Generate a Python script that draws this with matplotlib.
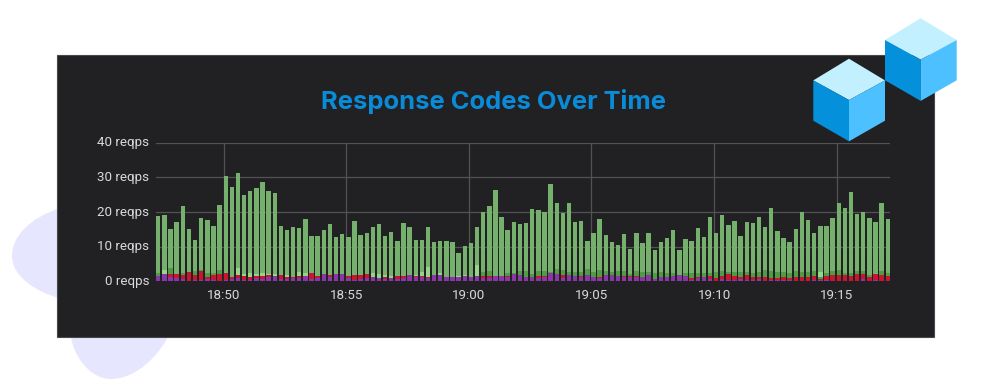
import matplotlib
matplotlib.use('Agg')
import matplotlib.pyplot as plt
import matplotlib.dates as mdates
from matplotlib.patches import Polygon, Rectangle, PathPatch
from matplotlib.path import Path
from matplotlib.transforms import ScaledTranslation
import numpy as np
import pandas as pd

total = [18.8, 19.0, 15.2, 17.2, 21.6, 15.0, 11.8, 18.3, 17.7, 16.1, 22.1, 30.5, 27.3, 31.3, 24.8, 26.2, 26.8, 28.6, 26.2, 25.4,
         16.1, 14.8, 15.8, 15.4, 18.1, 13.2, 13.1, 14.7, 16.6, 12.9, 13.7, 12.8, 17.5, 13.5, 13.8, 15.8, 16.5, 13.0, 14.1, 11.6,
         16.7, 15.8, 12.0, 11.9, 15.6, 11.2, 11.5, 11.5, 11.2, 8.1, 10.1, 11.0, 15.7, 20.0, 21.7, 26.3, 18.5, 14.8, 17.0, 16.5,
         16.9, 21.0, 20.5, 20.0, 28.0, 22.5, 19.7, 22.5, 17.0, 17.5, 11.6, 13.8, 17.9, 13.3, 11.2, 10.6, 13.7, 9.3, 13.8, 11.0,
         13.8, 9.1, 11.3, 12.4, 14.9, 9.1, 12.1, 11.5, 15.5, 12.8, 18.5, 13.8, 19.0, 16.3, 17.4, 13.2, 17.0, 16.9, 18.7, 15.6,
         21.2, 14.4, 12.4, 11.3, 15.0, 20.0, 17.6, 13.8, 15.9, 16.1, 18.2, 22.5, 21.2, 25.9, 19.4, 20.1, 18.2, 17.1, 22.7, 18.0]
purple = [1.6, 2.0, 1.1, 0.9, 0.8, 0.2, 0.3, 0.3, 0.7, 0.5, 0.2, 0.3, 0.7, 1.0, 0.5, 0.3, 1.0, 0.7, 1.2, 1.5,
          0.7, 0.8, 0.9, 1.0, 1.4, 0.6, 1.0, 2.1, 1.2, 2.0, 2.1, 0.9, 0.5, 0.7, 1.0, 1.3, 1.0, 0.6, 0.9, 0.8,
          1.0, 1.7, 1.1, 1.2, 0.9, 1.7, 1.8, 1.2, 1.1, 1.1, 1.4, 1.2, 1.5, 1.0, 1.0, 1.4, 1.6, 1.1, 2.0, 1.8,
          1.3, 1.2, 1.0, 1.2, 2.5, 2.0, 1.0, 1.8, 1.6, 1.3, 1.7, 1.2, 1.0, 1.7, 1.7, 1.5, 1.3, 1.2, 1.2, 1.2,
          1.8, 0.8, 1.2, 1.3, 1.5, 1.7, 1.4, 0.3, 0.9, 1.2, 0.6, 0.2, 0.7, 0.3, 0.3, 0.6, 0.3, 0.3, 0.6, 0.1,
          0.4, 0.4, 0.3, 0.3, 0.2, 0.1, 0.2, 0.3, 0.3, 0.5, 0.1, 0.2, 0.2, 0.2, 0.2, 0.6, 0.1, 0.3, 0.2, 0.2]
red = [0.0, 0.0, 1.0, 1.3, 0.9, 2.4, 1.4, 2.6, 0.6, 1.4, 1.8, 2.0, 0.4, 0.9, 1.0, 0.8, 0.5, 0.7, 0.5, 0.0,
       1.0, 0.5, 0.4, 0.5, 0.0, 1.7, 0.6, 0.0, 0.5, 0.0, 0.0, 0.7, 1.2, 1.0, 1.0, 0.0, 0.0, 0.6, 0.0, 0.8,
       0.4, 0.0, 0.3, 0.4, 0.4, 0.0, 0.0, 0.0, 0.0, 0.0, 0.0, 0.0, 0.0, 0.5, 0.6, 0.0, 0.0, 0.3, 0.0, 0.0,
       0.0, 0.0, 0.5, 0.2, 0.0, 0.0, 0.8, 0.0, 0.0, 0.3, 0.0, 0.0, 0.3, 0.0, 0.0, 0.0, 0.3, 0.3, 0.4, 0.0,
       0.0, 0.0, 0.0, 0.0, 0.0, 0.0, 0.0, 0.7, 0.2, 0.0, 1.0, 0.8, 0.8, 1.8, 1.3, 0.7, 1.4, 0.8, 0.5, 1.2,
       0.5, 0.5, 0.8, 0.6, 0.9, 1.0, 1.0, 1.2, 0.3, 1.0, 1.8, 1.7, 1.6, 1.3, 2.0, 1.4, 1.1, 1.7, 1.6, 1.4]
dark_green = [0.7, 0.0, 1.8, 0.0, 0.8, 0.0, 1.4, 0.5, 1.0, 0.6, 1.4, 0.0, 0.0, 0.0, 0.0, 0.0, 0.0, 0.0, 0.0, 0.0,
              0.0, 0.0, 0.0, 0.0, 0.0, 0.0, 0.0, 0.0, 0.0, 0.0, 0.0, 0.0, 0.0, 0.0, 0.0, 0.0, 0.0, 0.0, 0.0, 0.0,
              0.0, 0.0, 0.0, 0.0, 0.0, 0.0, 0.0, 0.0, 0.0, 0.0, 0.0, 0.0, 0.0, 1.3, 1.3, 0.0, 0.0, 1.0, 0.5, 1.2,
              1.8, 1.0, 1.5, 1.5, 0.3, 1.5, 1.5, 1.0, 1.0, 1.0, 1.8, 1.5, 2.0, 1.3, 1.0, 1.5, 1.5, 0.5, 1.5, 1.5,
              1.0, 1.5, 1.5, 1.2, 1.0, 0.0, 1.0, 1.5, 1.2, 1.2, 0.8, 1.8, 1.5, 0.5, 1.0, 1.5, 1.0, 1.3, 1.5, 2.0,
              2.0, 1.8, 1.5, 1.5, 1.8, 1.5, 1.5, 1.5, 0.5, 1.0, 1.0, 1.3, 0.5, 0.8, 0.8, 1.0, 0.5, 0.0, 1.2, 0.8]
pale_green = [0.0, 1.2, 0.0, 0.0, 0.0, 0.0, 0.0, 0.0, 0.0, 0.0, 0.0, 0.1, 0.0, 1.9, 0.6, 1.2, 0.7, 1.0, 0.5, 0.6,
              0.0, 0.4, 0.0, 1.2, 1.0, 0.0, 0.0, 0.0, 0.0, 0.0, 0.0, 0.0, 0.0, 0.0, 0.0, 1.0, 1.2, 0.6, 0.7, 0.0,
              0.0, 0.0, 0.5, 1.2, 2.8, 0.0, 0.5, 0.0, 0.0, 0.5, 0.5, 0.0, 3.3, 0.0, 0.0, 0.0, 0.0, 0.0, 0.0, 0.0,
              0.0, 0.0, 0.0, 0.0, 0.0, 0.0, 0.0, 0.0, 0.0, 0.0, 0.0, 0.0, 0.0, 0.0, 0.0, 0.0, 0.0, 0.0, 0.0, 0.0,
              0.0, 0.0, 0.0, 0.0, 0.0, 0.0, 0.0, 0.0, 0.0, 0.0, 0.0, 0.0, 0.0, 0.0, 0.0, 0.0, 0.0, 0.0, 0.0, 0.0,
              0.0, 0.0, 0.0, 0.0, 0.0, 0.0, 0.0, 0.0, 1.5, 0.0, 0.0, 0.0, 0.0, 0.0, 0.0, 0.0, 0.0, 0.0, 0.0, 0.0]
y_ticks = [0, 10, 20, 30, 40]
y_labels = ['0 reqps', '10 reqps', '20 reqps', '30 reqps', '40 reqps']
title = 'Response Codes Over Time'

W, H = 992, 391
fig = plt.figure(figsize=(W / 100, H / 100), dpi=100, facecolor='white')

# page furniture in pixel coordinates
bg = fig.add_axes([0, 0, 1, 1], zorder=0)
bg.set_xlim(0, W)
bg.set_ylim(H, 0)
bg.axis('off')

C, M, L = Path.CURVE4, Path.MOVETO, Path.LINETO
blob1 = Path([(60, 208), (30, 218), (12, 236), (12, 256), (12, 276), (35, 292), (62, 299), (62, 208)],
             [M, C, C, C, C, C, C, L])
blob2 = Path([(70, 330), (72, 358), (92, 380), (112, 379), (136, 378), (158, 358), (172, 330), (70, 330)],
             [M, C, C, C, C, C, C, L])
for p in (blob1, blob2):
    bg.add_patch(PathPatch(p, fc='#e6e6ff', ec='none', zorder=1))

bg.add_patch(Rectangle((57, 54.5), 876.5, 282.5, fc='#212124', ec='#48484a', lw=0.8, zorder=2))
bg.text(493.5, 101.5, title, color='#0a8bd8', fontsize=18.4, fontweight='bold',
        family='Inter', ha='center', va='center', zorder=3)

# chart
ax = fig.add_axes([156 / W, 1 - 281.3 / H, 734 / W, 138.6 / H], zorder=1)
ax.patch.set_alpha(0)
times = pd.date_range('2020-01-01 18:47:20', periods=len(total), freq='15s')
bar_w = 4.4 / 6.13 * 15 / 86400

purple = np.array(purple)
red = np.array(red)
dark_green = np.array(dark_green)
pale_green = np.array(pale_green)
main = np.array(total) - purple - red - dark_green - pale_green

bottom = np.zeros(len(total))
for vals, col in [(purple, '#8b36a8'), (red, '#c9152f'), (dark_green, '#4f9c45'),
                  (pale_green, '#96d488'), (main, '#76b06d')]:
    ax.bar(times, vals, width=bar_w, bottom=bottom, color=col, lw=0, zorder=3)
    bottom += vals

ax.set_ylim(0, 40)
x_start = pd.Timestamp('2020-01-01 18:47:14.4')
ax.set_xlim(x_start, x_start + pd.Timedelta(seconds=734 / 6.13 * 15))
ax.set_yticks(y_ticks, y_labels)
ax.xaxis.set_major_locator(mdates.MinuteLocator(byminute=range(0, 60, 5)))
ax.xaxis.set_major_formatter(mdates.DateFormatter('%H:%M'))
ax.grid(True, color='#525254', lw=0.9, zorder=1)
ax.set_axisbelow(True)
for s in ax.spines.values():
    s.set_visible(False)
ax.tick_params(length=0, labelcolor='#d8d9da', labelsize=9.6)
ax.tick_params(axis='y', pad=5)
ax.tick_params(axis='x', pad=5.5)
for t in ax.get_xticklabels() + ax.get_yticklabels():
    t.set_family('Roboto')
# y labels sit a little above their grid lines
for t in ax.get_yticklabels():
    t.set_transform(t.get_transform() + ScaledTranslation(0, 1.3 / 100, fig.dpi_scale_trans))

# cubes on top of everything
fg = fig.add_axes([0, 0, 1, 1], zorder=2)
fg.set_xlim(0, W)
fg.set_ylim(H, 0)
fg.axis('off')


def cube(ox, oy):
    top = [(ox, oy), (ox + 36, oy + 21.7), (ox, oy + 41.3), (ox - 35.7, oy + 21.7)]
    left = [(ox - 35.7, oy + 21.7), (ox, oy + 41.3), (ox, oy + 82.6), (ox - 35.7, oy + 62)]
    right = [(ox, oy + 41.3), (ox + 36, oy + 21.7), (ox + 36, oy + 62), (ox, oy + 82.6)]
    for pts, col in [(top, '#c2f0ff'), (left, '#0590dc'), (right, '#4dc0ff')]:
        fg.add_patch(Polygon(pts, fc=col, ec='none'))


cube(920.7, 18.3)
cube(849, 58.7)

fig.savefig('out.png', dpi=100)
